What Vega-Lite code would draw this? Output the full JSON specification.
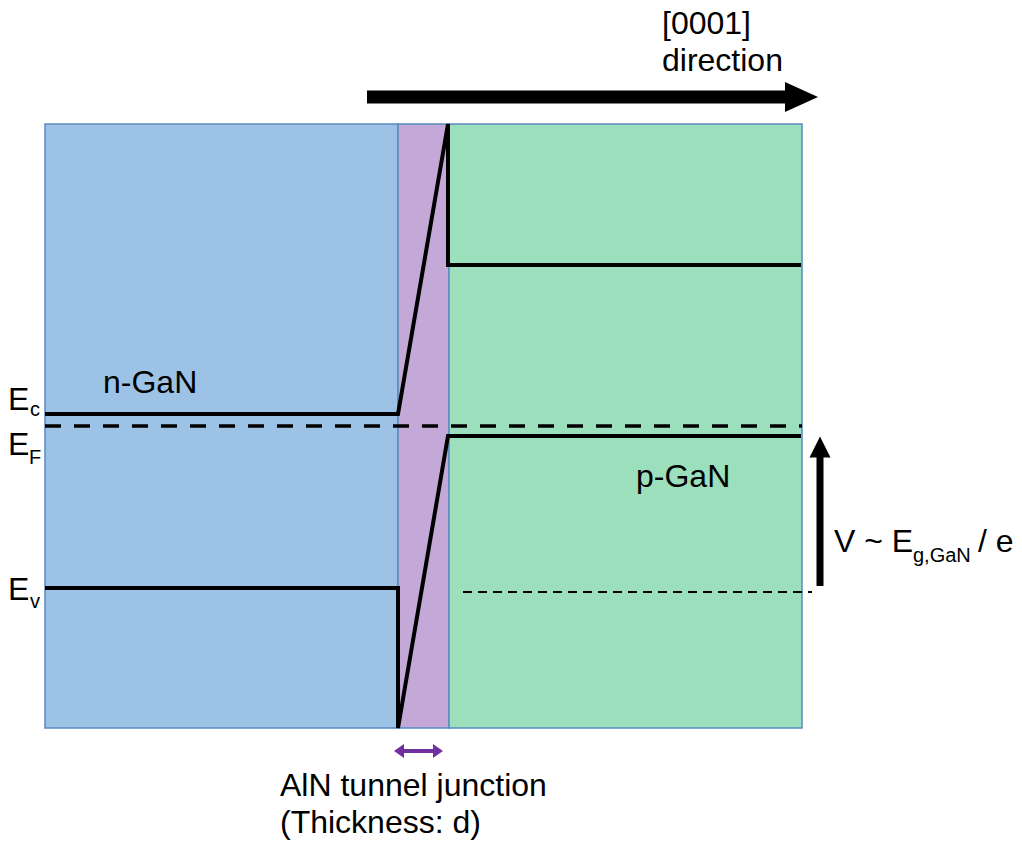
{
  "$schema": "https://vega.github.io/schema/vega-lite/v6.json",
  "width": 1022,
  "height": 843,
  "padding": 0,
  "autosize": {"type": "fit", "contains": "padding"},
  "background": "white",
  "config": {"view": {"stroke": null}, "text": {"font": "Liberation Sans", "color": "black"}},
  "datasets": {
    "regions": [
      {"x": 45, "x2": 398, "y": 124, "y2": 728, "region": "n-GaN"},
      {"x": 398, "x2": 449, "y": 124, "y2": 728, "region": "AlN"},
      {"x": 449, "x2": 802, "y": 124, "y2": 728, "region": "p-GaN"}
    ],
    "bands": [
      {"band": "Ec", "i": 1, "x": 45, "y": 414},
      {"band": "Ec", "i": 2, "x": 398, "y": 414},
      {"band": "Ec", "i": 3, "x": 448, "y": 124},
      {"band": "Ec", "i": 4, "x": 448, "y": 265},
      {"band": "Ec", "i": 5, "x": 801, "y": 265},
      {"band": "Ev", "i": 1, "x": 45, "y": 588},
      {"band": "Ev", "i": 2, "x": 398, "y": 588},
      {"band": "Ev", "i": 3, "x": 398, "y": 728},
      {"band": "Ev", "i": 4, "x": 448, "y": 436},
      {"band": "Ev", "i": 5, "x": 801, "y": 436}
    ],
    "fermi": [
      {"x": 45, "y": 426},
      {"x": 802, "y": 426}
    ],
    "vlevel": [
      {"x": 463, "y": 592},
      {"x": 812, "y": 592}
    ],
    "mainText": [
      {"x": 662, "y": 34, "t": "[0001]"},
      {"x": 662, "y": 71, "t": "direction"},
      {"x": 103, "y": 393, "t": "n-GaN"},
      {"x": 8, "y": 410, "t": "E"},
      {"x": 8, "y": 455, "t": "E"},
      {"x": 8, "y": 600, "t": "E"},
      {"x": 636, "y": 487, "t": "p-GaN"},
      {"x": 834, "y": 552, "t": "V ~ E"},
      {"x": 978, "y": 552, "t": "/ e"},
      {"x": 280, "y": 796, "t": "AlN tunnel junction"},
      {"x": 280, "y": 833, "t": "(Thickness: d)"}
    ],
    "subText": [
      {"x": 30, "y": 416, "t": "c"},
      {"x": 29, "y": 464, "t": "F"},
      {"x": 30, "y": 608, "t": "v"},
      {"x": 913, "y": 562, "t": "g,GaN"}
    ]
  },
  "encoding": {
    "x": {"type": "quantitative", "scale": {"domain": [0, 1022], "nice": false, "zero": false}, "axis": null},
    "y": {"type": "quantitative", "scale": {"domain": [0, 843], "nice": false, "zero": false, "reverse": true}, "axis": null}
  },
  "layer": [
    {
      "data": {"name": "regions"},
      "mark": {"type": "rect", "stroke": "#5a8ac0", "strokeWidth": 1.5},
      "encoding": {
        "x": {"field": "x", "type": "quantitative"},
        "x2": {"field": "x2"},
        "y": {"field": "y", "type": "quantitative"},
        "y2": {"field": "y2"},
        "fill": {"field": "region", "type": "nominal", "legend": null,
          "scale": {"domain": ["n-GaN", "AlN", "p-GaN"], "range": ["#9cc3e6", "#c4a8d8", "#9cdfbd"]}}
      }
    },
    {
      "data": {"name": "bands"},
      "mark": {"type": "line", "color": "black", "strokeWidth": 4, "strokeJoin": "miter", "strokeCap": "butt"},
      "encoding": {
        "x": {"field": "x", "type": "quantitative"},
        "y": {"field": "y", "type": "quantitative"},
        "detail": {"field": "band"},
        "order": {"field": "i"}
      }
    },
    {
      "data": {"name": "fermi"},
      "mark": {"type": "line", "color": "black", "strokeWidth": 3.5, "strokeDash": [16, 13]},
      "encoding": {
        "x": {"field": "x", "type": "quantitative"},
        "y": {"field": "y", "type": "quantitative"}
      }
    },
    {
      "data": {"name": "vlevel"},
      "mark": {"type": "line", "color": "black", "strokeWidth": 2, "strokeDash": [9, 6]},
      "encoding": {
        "x": {"field": "x", "type": "quantitative"},
        "y": {"field": "y", "type": "quantitative"}
      }
    },
    {
      "data": {"values": [{"x": 367, "x2": 788, "y": 97}]},
      "mark": {"type": "rule", "color": "black", "strokeWidth": 13},
      "encoding": {
        "x": {"field": "x", "type": "quantitative"},
        "x2": {"field": "x2"},
        "y": {"field": "y", "type": "quantitative"}
      }
    },
    {
      "data": {"values": [{"x": 801.5, "y": 97}]},
      "mark": {"type": "point", "shape": "M-1,-0.91L1,0L-1,0.91Z", "filled": true, "color": "black", "opacity": 1, "size": 1089, "strokeWidth": 0},
      "encoding": {
        "x": {"field": "x", "type": "quantitative"},
        "y": {"field": "y", "type": "quantitative"}
      }
    },
    {
      "data": {"values": [{"x": 820, "y": 586, "y2": 455}]},
      "mark": {"type": "rule", "color": "black", "strokeWidth": 7},
      "encoding": {
        "x": {"field": "x", "type": "quantitative"},
        "y": {"field": "y", "type": "quantitative"},
        "y2": {"field": "y2"}
      }
    },
    {
      "data": {"values": [{"x": 820, "y": 447}]},
      "mark": {"type": "point", "shape": "M-1,1L0,-1L1,1Z", "filled": true, "color": "black", "opacity": 1, "size": 441, "strokeWidth": 0},
      "encoding": {
        "x": {"field": "x", "type": "quantitative"},
        "y": {"field": "y", "type": "quantitative"}
      }
    },
    {
      "data": {"values": [{"x": 401, "x2": 437, "y": 751}]},
      "mark": {"type": "rule", "color": "#7030a0", "strokeWidth": 4},
      "encoding": {
        "x": {"field": "x", "type": "quantitative"},
        "x2": {"field": "x2"},
        "y": {"field": "y", "type": "quantitative"}
      }
    },
    {
      "data": {"values": [{"x": 401, "y": 751}]},
      "mark": {"type": "point", "shape": "M0.43,-1L-1,0L0.43,1Z", "filled": true, "color": "#7030a0", "opacity": 1, "size": 196, "strokeWidth": 0},
      "encoding": {
        "x": {"field": "x", "type": "quantitative"},
        "y": {"field": "y", "type": "quantitative"}
      }
    },
    {
      "data": {"values": [{"x": 436, "y": 751}]},
      "mark": {"type": "point", "shape": "M-0.43,-1L1,0L-0.43,1Z", "filled": true, "color": "#7030a0", "opacity": 1, "size": 196, "strokeWidth": 0},
      "encoding": {
        "x": {"field": "x", "type": "quantitative"},
        "y": {"field": "y", "type": "quantitative"}
      }
    },
    {
      "data": {"name": "mainText"},
      "mark": {"type": "text", "fontSize": 32, "align": "left", "baseline": "alphabetic"},
      "encoding": {
        "x": {"field": "x", "type": "quantitative"},
        "y": {"field": "y", "type": "quantitative"},
        "text": {"field": "t"}
      }
    },
    {
      "data": {"name": "subText"},
      "mark": {"type": "text", "fontSize": 20, "align": "left", "baseline": "alphabetic"},
      "encoding": {
        "x": {"field": "x", "type": "quantitative"},
        "y": {"field": "y", "type": "quantitative"},
        "text": {"field": "t"}
      }
    }
  ]
}
